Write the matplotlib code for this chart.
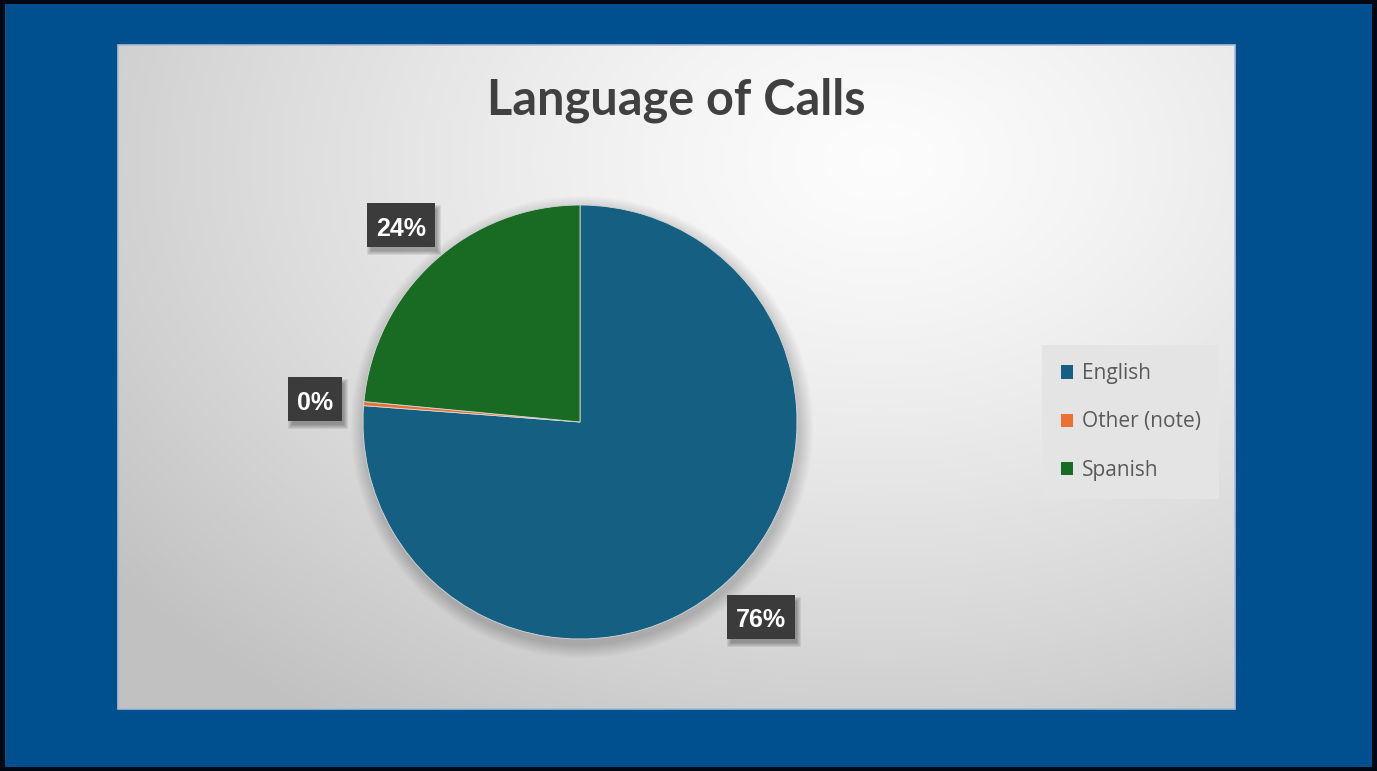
import numpy as np
import matplotlib
matplotlib.use("Agg")
import matplotlib.pyplot as plt
from matplotlib.patches import Rectangle, Circle
from matplotlib import patheffects as pe

# Data
categories = ["English", "Other (note)", "Spanish"]
shares = [76.2, 0.3, 23.5]
colors = ["#156082", "#E97132", "#196B24"]
title = "Language of Calls"

plt.rcParams["hatch.color"] = "#484848"
plt.rcParams["hatch.linewidth"] = 0.5

W, H = 1377, 771
fig = plt.figure(figsize=(W / 100, H / 100), dpi=100)
ax = fig.add_axes([0, 0, 1, 1])

# Slide frame: black outline and blue backdrop
ax.add_patch(Rectangle((0, 0), W, H, facecolor="#000814", edgecolor="none", zorder=0))
ax.add_patch(Rectangle((5, 4), W - 10, H - 8, facecolor="#00508F", edgecolor="none", zorder=0.5))

# Chart area with a soft radial grey-to-white gradient
x0, x1 = 118, 1235
y0, y1 = H - 709, H - 45
gx = np.linspace(x0, x1, 600)
gy = np.linspace(y0, y1, 360)
GX, GY = np.meshgrid(gx, gy)
cx, cy = 880, H - 160
d = np.sqrt(((GX - cx) / 1000) ** 2 + ((GY - cy) / 700) ** 2)
shade = np.clip(0.99 - 0.24 * d ** 1.3, 0.76, 1.0)
img = np.dstack([shade, shade, shade])
ax.imshow(img, extent=(x0, x1, y0, y1), origin="lower", zorder=1, aspect="auto")
ax.add_patch(Rectangle((x0, y0), x1 - x0, y1 - y0, facecolor="none",
                       edgecolor="#a9bcd3", linewidth=1.2, zorder=1.1))

# Pie
pcx, pcy, R = 580, H - 422, 217

# soft shadow under the pie
for k in range(14):
    ax.add_patch(Circle((pcx + 2, pcy - 5), R + 14 - k, facecolor="#000000",
                        edgecolor="none", alpha=0.012, zorder=2))

wedges, _ = ax.pie(shares, colors=colors, startangle=90, counterclock=False,
                   center=(pcx, pcy), radius=R, frame=True,
                   wedgeprops=dict(edgecolor="#d8d8d8", linewidth=0.6))
ax.set_xlim(0, W)
ax.set_ylim(0, H)
ax.set_aspect("equal")
ax.axis("off")
for w in wedges:
    w.set_zorder(3)

# Percentage labels in dark boxes outside each slice
box_w, box_h = 68, 44
for w, v in zip(wedges, shares):
    mid = np.deg2rad((w.theta1 + w.theta2) / 2)
    dist = R * 1.225
    tx = pcx + dist * np.cos(mid)
    ty = pcy + dist * np.sin(mid)
    txt = f"{round(v):.0f}%"
    bw = box_w if len(txt) > 2 else box_w - 14
    bx, by = tx - bw / 2, ty - box_h / 2
    # blurred drop shadow
    for k in range(5):
        ax.add_patch(Rectangle((bx + 4 - k, by - 4 - k), bw + 2 * k - 2, box_h + 2 * k - 2,
                               facecolor="#000000", edgecolor="none", alpha=0.07, zorder=4.5))
    ax.add_patch(Rectangle((bx, by), bw, box_h, facecolor="#3b3b3b",
                           edgecolor="#3b3b3b", linewidth=0, hatch="....", zorder=5))
    ax.text(tx, ty - 1, txt, ha="center", va="center_baseline",
            fontsize=18, fontweight="bold", color="white",
            family="Liberation Sans", zorder=6)

# Title
ax.text(676, H - 100, title, ha="center", va="center", fontsize=35,
        fontweight="bold", color="#404040", family="Lato", zorder=5)

# Legend
leg = ax.legend(wedges, categories, loc="center left",
                bbox_to_anchor=(1042 / W, 1 - 422 / H), bbox_transform=fig.transFigure,
                frameon=True, fancybox=False, labelcolor="#595959",
                handlelength=0.6, handleheight=0.6, handletextpad=0.4,
                labelspacing=1.3, borderpad=0.9, borderaxespad=0,
                prop=dict(family="Open Sans", size=15))
leg.get_frame().set_facecolor("#e4e4e4")
leg.get_frame().set_edgecolor("none")
leg.get_frame().set_alpha(1)
leg.set_zorder(6)
for h in leg.legend_handles:
    h.set_edgecolor("none")

fig.savefig("out.png", dpi=100)
